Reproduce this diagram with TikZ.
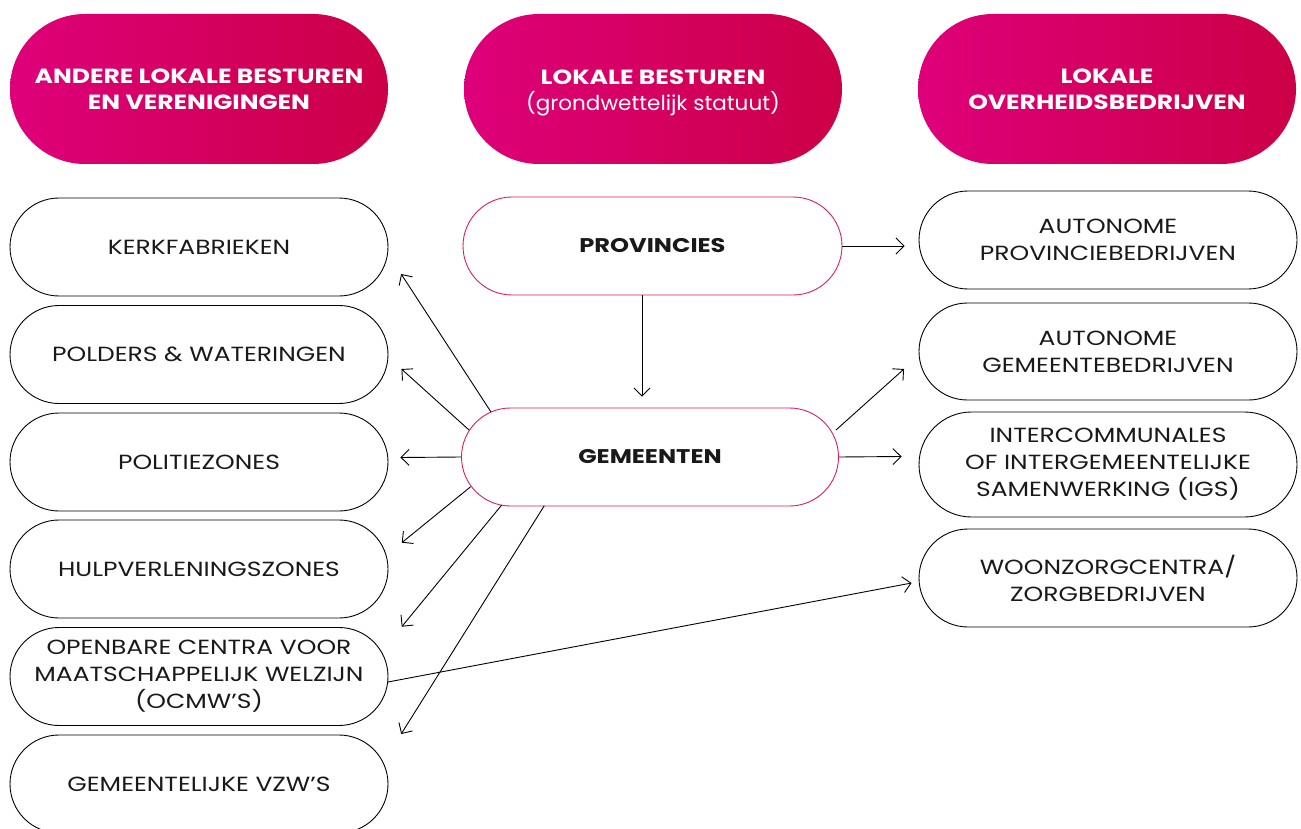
\documentclass[tikz,border=0pt]{standalone}
\usepackage{fontspec}
\setmainfont{Poppins}[FakeStretch=1.22]
\newfontfamily\plainpop{Poppins}[FakeStretch=1.05]
\usetikzlibrary{shapes.misc,arrows.meta,calc}
\definecolor{hl}{RGB}{222,0,122}
\definecolor{hr}{RGB}{204,0,70}
\definecolor{pinkline}{RGB}{220,30,90}
\definecolor{txt}{RGB}{25,25,25}
\begin{document}
\begin{tikzpicture}[x=1pt,y=-1pt,
  hdr/.style={rounded rectangle, minimum width=378pt, minimum height=150pt,
    left color=hl, right color=hr, draw=none, text=white, align=center,
    font=\fontsize{20.5}{26}\selectfont\bfseries, inner sep=0pt},
  hdrtext/.style={text=white, align=center, font=\fontsize{20.5}{26}\selectfont\bfseries, inner sep=0pt},
  box/.style={rounded rectangle, draw=black, line width=0.9pt, minimum width=378pt,
    minimum height=98pt, align=center, font=\fontsize{20.5}{27}\selectfont,
    text=txt, inner sep=0pt},
  midbox/.style={box, draw=pinkline, font=\fontsize{19.8}{27}\selectfont\bfseries},
  arr/.style={-{Straight Barb[length=8pt,width=16pt]}, line width=0.9pt}]
\useasboundingbox (0,0) rectangle (1301,829);
% headers
\node[hdr] (h1) at (199,89) {ANDERE LOKALE BESTUREN\\EN VERENIGINGEN};
\node[hdr] (h2) at (653,89) {};
\node[hdrtext] (h2t) at ($(h2.center)+(0,3.5)$) {LOKALE BESTUREN\\{\plainpop\mdseries(grondwettelijk statuut)}};
\node[hdr] (h3) at (1107,89) {LOKALE\\OVERHEIDSBEDRIJVEN};
% left column
\node[box] (kerk) at (199,247) {KERKFABRIEKEN};
\node[box] (pold) at (199,354.5) {POLDERS \& WATERINGEN};
\node[box] (poli) at (199,462) {POLITIEZONES};
\node[box] (hulp) at (199,569) {HULPVERLENINGSZONES};
\node[box] (ocmw) at (199,676.5) {OPENBARE CENTRA VOOR\\MAATSCHAPPELIJK WELZIJN\\(OCMW’S)};
\node[box] (vzw) at (199,784) {GEMEENTELIJKE VZW’S};
% middle
\node[midbox, minimum width=379pt] (prov) at (652.5,246) {PROVINCIES};
\node[midbox, minimum width=377pt] (gem) at (650,457) {GEMEENTEN};
% right column
\node[box] (apb) at (1108,240) {AUTONOME\\PROVINCIEBEDRIJVEN};
\node[box, minimum height=97pt] (agb) at (1108,351.5) {AUTONOME\\GEMEENTEBEDRIJVEN};
\node[box, minimum height=105pt] (igs) at (1108,464.5) {INTERCOMMUNALES\\OF INTERGEMEENTELIJKE\\SAMENWERKING (IGS)};
\node[box] (woon) at (1108,578) {WOONZORGCENTRA/\\ZORGBEDRIJVEN};
% connectors
\draw[arr] (prov.east) -- ($(apb.west)+(-14,6)$);
\draw[arr] ($(prov.south)+(-10.5,0)$) -- ($(gem.north)+(-8,-11)$);
\draw[arr] ($(gem.center)+(-159,-45)$) -- ($(kerk.east)+(12.7,27)$);
\draw[arr] ($(gem.center)+(-181,-27)$) -- ($(pold.east)+(13,14.5)$);
\draw[arr] (gem.west) -- ($(poli.east)+(12,-4.5)$);
\draw[arr] ($(gem.center)+(-179.3,29.7)$) -- ($(hulp.east)+(13.3,-26.3)$);
\draw[arr] ($(gem.center)+(-148.3,48)$) -- ($(ocmw.east)+(13.3,-49.8)$);
\draw[arr] ($(gem.center)+(-105.7,48.7)$) -- ($(vzw.east)+(12.7,-50)$);
\draw[arr] ($(ocmw.east)+(-0.5,5.5)$) -- ($(woon.west)+(-7,5)$);
\draw[arr] ($(gem.center)+(186,-27)$) -- ($(agb.west)+(-14.5,17.5)$);
\draw[arr] (gem.east) -- ($(igs.west)+(-17,-8)$);
\end{tikzpicture}
\end{document}
